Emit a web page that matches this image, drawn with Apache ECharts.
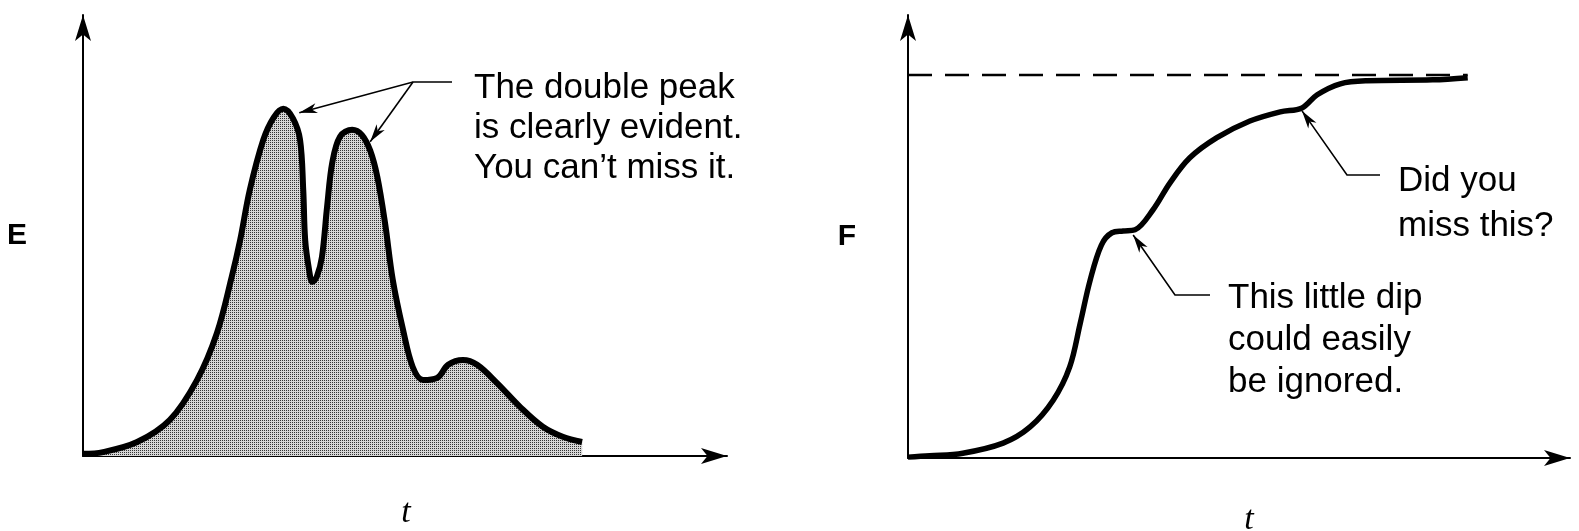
<!DOCTYPE html>
<html>
<head>
<meta charset="utf-8">
<script src="https://cdn.jsdelivr.net/npm/echarts@6/dist/echarts.min.js"></script>
<style>
  html, body { margin: 0; padding: 0; background: #fff; }
  #chart { width: 1579px; height: 531px; }
</style>
</head>
<body>
<div id="chart"></div>
<script>
// Left panel: E(t) response curve with a double peak and a shoulder
const tE = [0, 3.1, 8.4, 13.5, 17.7, 20.8, 23.1, 24.4, 25.9, 28.0, 29.6, 31.1, 32.6, 33.7, 34.2, 34.5, 35.1, 35.6, 36.3, 37.1, 37.9, 38.7, 39.9, 41.8, 43.3, 44.6, 45.7, 46.9, 48.1, 49.7, 51.2, 52.8, 55.0, 56.7, 59.0, 61.2, 64.3, 67.9, 71.4, 74.5, 77.5];
const E  = [0.5, 0.9, 3.2, 8.3, 17.4, 28.2, 41.1, 49.5, 61.0, 72.5, 77.6, 79.6, 77.4, 72.5, 61.0, 49.5, 42.7, 39.9, 41.1, 45.6, 57.1, 67.2, 73.2, 74.8, 73.6, 70.0, 64.0, 53.4, 40.4, 28.9, 20.4, 17.4, 17.9, 20.9, 22.0, 20.9, 16.7, 11.2, 6.7, 4.4, 3.2];

// Right panel: cumulative F(t) with two small plateaus
const tF = [0, 3.3, 8.3, 14.4, 18.5, 22.0, 24.5, 26.1, 27.6, 29.3, 30.9, 32.6, 34.4, 37.1, 39.7, 42.7, 46.8, 51.8, 56.4, 59.7, 62.0, 65.5, 69.5, 79.5, 84.8];
const F  = [0.2, 0.5, 1.1, 3.4, 7.1, 13.2, 20.8, 30.8, 40.6, 48.6, 51.4, 51.8, 52.1, 56.6, 62.8, 68.5, 73.1, 76.9, 79.0, 79.9, 82.9, 85.4, 86.1, 86.3, 86.8];
const F_LIMIT = 87.4;

// Index of the points the callouts point at
const PEAK_1 = 11, PEAK_2 = 23, DIP_F = 11, BEND_F = 19;

const textLeft  = ['The double peak', 'is clearly evident.', 'You can’t miss it.'];
const textDip   = ['This little dip', 'could easily', 'be ignored.'];
const textMiss  = ['Did you', 'miss this?'];

const zip = (xs, ys) => xs.map((x, i) => [x, ys[i]]);

// stipple fill for the area under E(t)
function stipple() {
  const c = document.createElement('canvas');
  c.width = 2; c.height = 2;
  const g = c.getContext('2d');
  g.fillStyle = '#d6d6d6'; g.fillRect(0, 0, 2, 2);
  g.fillStyle = '#333333'; g.fillRect(0, 0, 1, 1);
  return c;
}

const FONT = '"Liberation Sans", Arial, sans-serif';
const axisArrow = {
  show: true, symbol: ['none', 'arrow'], symbolSize: [12, 26],
  lineStyle: { color: '#000', width: 2 }
};
function valueAxis(gridIndex, name, max, extra) {
  return Object.assign({
    type: 'value', gridIndex, min: 0, max,
    axisLine: axisArrow, axisTick: { show: false }, axisLabel: { show: false },
    splitLine: { show: false }, name,
    nameLocation: 'middle'
  }, extra);
}
const tName = pad => ({ fontFamily: '"Liberation Serif", serif', fontStyle: 'italic', fontSize: 34, color: '#000', padding: pad });
const yName = pad => ({ fontFamily: FONT, fontWeight: 'bold', fontSize: 30, color: '#000', padding: pad });

const chart = echarts.init(document.getElementById('chart'), null, { renderer: 'canvas' });
chart.setOption({
  backgroundColor: '#fff',
  animation: false,
  grid: [
    { left: 83, top: 15, right: 852, bottom: 75, containLabel: false, outerBoundsMode: 'none' },
    { left: 908, top: 15, right: 9, bottom: 73, containLabel: false, outerBoundsMode: 'none' }
  ],
  xAxis: [
    valueAxis(0, 't', 100, { nameGap: 40, nameTextStyle: tName([0, 0, 0, 2]) }),
    valueAxis(1, 't', 100.3, { nameGap: 45, nameTextStyle: tName([0, 0, 0, 20]) })
  ],
  yAxis: [
    valueAxis(0, 'E', 101.1, { nameRotate: 0, nameGap: 56, nameTextStyle: yName([0, 0, 4, 0]) }),
    valueAxis(1, 'F', 101.1, { nameRotate: 0, nameGap: 52, nameTextStyle: yName([12, 0, 0, 0]) })
  ],
  series: [
    {
      name: 'E', type: 'line', xAxisIndex: 0, yAxisIndex: 0,
      data: zip(tE, E), smooth: 0.35, symbol: 'none',
      lineStyle: { color: '#000', width: 6 },
      areaStyle: { color: { image: stipple(), repeat: 'repeat' }, opacity: 1 }
    },
    {
      name: 'F', type: 'line', xAxisIndex: 1, yAxisIndex: 1,
      data: zip(tF, F), smooth: 0.35, symbol: 'none',
      lineStyle: { color: '#000', width: 5.5 }, z: 3
    },
    {
      name: 'F limit', type: 'line', xAxisIndex: 1, yAxisIndex: 1,
      data: [[0, F_LIMIT], [tF[tF.length - 1], F_LIMIT]], symbol: 'none',
      lineStyle: { color: '#000', width: 2.5, type: [24, 13] }, z: 2
    }
  ]
});

// callout leaders with arrowheads
function head(tip, from, len, half) {
  const dx = tip[0] - from[0], dy = tip[1] - from[1];
  const L = Math.hypot(dx, dy), ux = dx / L, uy = dy / L;
  const nx = -uy, ny = ux;
  const bx = tip[0] - ux * len, by = tip[1] - uy * len;
  return {
    type: 'polygon',
    shape: { points: [tip, [bx + nx * half, by + ny * half], [tip[0] - ux * len * 0.72, tip[1] - uy * len * 0.72], [bx - nx * half, by - ny * half]] },
    style: { fill: '#000' }
  };
}
function leader(points) {
  return { type: 'polyline', shape: { points }, style: { stroke: '#000', lineWidth: 1.6, fill: null } };
}
function label(lines, x, top, lh) {
  return {
    type: 'text', x, y: top,
    style: { text: lines.join('\n'), font: '35px ' + FONT, fill: '#000', lineHeight: lh, verticalAlign: 'top', align: 'left' }
  };
}
const px = (g, t, v) => chart.convertToPixel({ gridIndex: g }, [t, v]);
const add = (p, dx, dy) => [p[0] + dx, p[1] + dy];

const tip1 = add(px(0, tE[PEAK_1], E[PEAK_1]), 16, 4);
const tip2 = add(px(0, tE[PEAK_2], E[PEAK_2]), 18, 12);
const elbowL = [413, 82];
const tipDip = add(px(1, tF[DIP_F], F[DIP_F]), 10, 4);
const elbowDip = [1175, 295];
const tipMiss = add(px(1, tF[BEND_F], F[BEND_F]), 0, 3);
const elbowMiss = [1347, 175];

chart.setOption({
  graphic: [
    leader([tip1, elbowL, [452, 82]]),
    leader([tip2, elbowL]),
    head(tip1, elbowL, 18, 5),
    head(tip2, elbowL, 18, 5),
    label(textLeft, 474, 68, 40),
    leader([tipDip, elbowDip, [1210, 295]]),
    head(tipDip, elbowDip, 18, 5),
    label(textDip, 1228, 277, 42),
    leader([tipMiss, elbowMiss, [1380, 175]]),
    head(tipMiss, elbowMiss, 18, 5),
    label(textMiss, 1398, 159, 45)
  ]
});
</script>
</body>
</html>
